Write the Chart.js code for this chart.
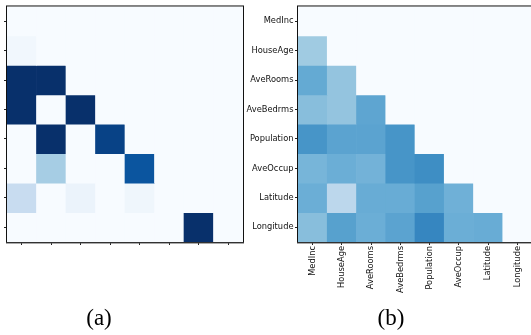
<!DOCTYPE html>
<html>
<head>
<meta charset="utf-8">
<script src="https://cdn.jsdelivr.net/npm/chart.js@4/dist/chart.umd.min.js"></script>
<style>
  html, body { margin: 0; padding: 0; background: #fff; width: 531px; height: 335px; overflow: hidden; position: relative; }
  canvas { position: absolute; top: 0; }
  #chartA { left: 0; }
  #chartB { left: 243px; }
  .cap { position: absolute; top: 305px; width: 80px; text-align: center; font-family: 'Liberation Serif', serif; font-size: 23px; color: #000; }
</style>
</head>
<body>
<canvas id="chartA" width="246" height="335"></canvas>
<canvas id="chartB" width="290" height="335"></canvas>
<div class="cap" style="left:59px">(a)</div>
<div class="cap" style="left:351px">(b)</div>
<script>
const features = ['MedInc', 'HouseAge', 'AveRooms', 'AveBedrms', 'Population', 'AveOccup', 'Latitude', 'Longitude'];

// panel (a) weights, one row per feature (0..1)
const weightsA = [
  [0,    0,    0,    0,    0,    0,    0,    0],
  [0.03, 0,    0,    0,    0,    0,    0,    0],
  [1,    1,    0,    0,    0,    0,    0,    0],
  [1,    0,    1,    0,    0,    0,    0,    0],
  [0,    1,    0,    0.93, 0,    0,    0,    0],
  [0,    0.35, 0,    0,    0.86, 0,    0,    0],
  [0.24, 0,    0.06, 0,    0.04, 0,    0,    0],
  [0,    0,    0,    0,    0,    0,    1,    0]
];

// panel (b) weights
const weightsB = [
  [0,    0,    0,    0,    0,    0,    0,    0],
  [0.37, 0,    0,    0,    0,    0,    0,    0],
  [0.52, 0.40, 0,    0,    0,    0,    0,    0],
  [0.43, 0.40, 0.54, 0,    0,    0,    0,    0],
  [0.61, 0.55, 0.55, 0.61, 0,    0,    0,    0],
  [0.47, 0.50, 0.48, 0.61, 0.64, 0,    0,    0],
  [0.50, 0.28, 0.51, 0.51, 0.56, 0.49, 0,    0],
  [0.43, 0.56, 0.50, 0.55, 0.67, 0.50, 0.51, 0]
];

// matplotlib "Blues"
const blues = ['#f7fbff', '#deebf7', '#c6dbef', '#9ecae1', '#6baed6', '#4292c6', '#2171b5', '#08519c', '#08306b'];

function hexRgb(h) {
  return [1, 3, 5].map(i => parseInt(h.slice(i, i + 2), 16));
}

function bluesColor(t) {
  t = Math.max(0, Math.min(1, t));
  const pos = t * (blues.length - 1);
  const i = Math.min(Math.floor(pos), blues.length - 2);
  const f = pos - i;
  const a = hexRgb(blues[i]), b = hexRgb(blues[i + 1]);
  const c = a.map((v, k) => Math.round(v + (b[k] - v) * f));
  return 'rgb(' + c.join(',') + ')';
}

const frame = {
  id: 'frame',
  afterDatasetsDraw(chart) {
    const a = chart.chartArea;
    const ctx = chart.ctx;
    ctx.save();
    ctx.strokeStyle = '#111';
    ctx.lineWidth = 1;
    ctx.strokeRect(a.left - 0.5, a.top - 0.5, a.right - a.left + 1, a.bottom - a.top + 1);
    // bottom spine looks heavier in the original
    ctx.strokeStyle = '#555';
    ctx.beginPath();
    ctx.moveTo(a.left - 1, a.bottom + 1);
    ctx.lineTo(a.right + 1, a.bottom + 1);
    ctx.stroke();
    ctx.restore();
  }
};

function heatmap(id, weights, opts) {
  const tickFont = { family: 'DejaVu Sans', size: 8.3 };
  new Chart(document.getElementById(id), {
    type: 'bar',
    data: {
      labels: features,
      datasets: weights.map((row, r) => ({
        label: features[r],
        data: row.map(() => 1),
        backgroundColor: row.map(bluesColor),
        borderWidth: 0,
        barPercentage: 1,
        categoryPercentage: 1
      }))
    },
    options: {
      responsive: false,
      animation: false,
      layout: { padding: { top: 5, right: opts.padRight, bottom: 0, left: 0 } },
      plugins: { legend: { display: false }, tooltip: { enabled: false } },
      scales: {
        x: {
          stacked: true,
          grid: { offset: false, drawOnChartArea: false, drawTicks: true, tickLength: 3, color: '#222' },
          border: { display: false },
          ticks: {
            autoSkip: false,
            minRotation: opts.labels ? 90 : 0,
            maxRotation: opts.labels ? 90 : 0,
            padding: 1,
            color: '#111',
            font: tickFont,
            callback: (v, i) => opts.labels ? features[i] : ''
          },
          afterFit: s => { s.height = 93; }
        },
        y: {
          stacked: true,
          reverse: true,
          min: 0,
          max: 8,
          grid: { drawOnChartArea: false, drawTicks: true, tickLength: 3, color: '#222' },
          border: { display: false },
          afterBuildTicks: s => { s.ticks = features.map((f, i) => ({ value: i + 0.5 })); },
          ticks: {
            autoSkip: false,
            padding: 1.5,
            color: '#111',
            font: tickFont,
            callback: (v, i) => opts.labels ? features[i] : ''
          },
          afterFit: s => { s.width = opts.yWidth; }
        }
      }
    },
    plugins: [frame]
  });
}

heatmap('chartA', weightsA, { labels: false, yWidth: 7, padRight: 3 });
heatmap('chartB', weightsB, { labels: true, yWidth: 55, padRight: 1 });
</script>
</body>
</html>
